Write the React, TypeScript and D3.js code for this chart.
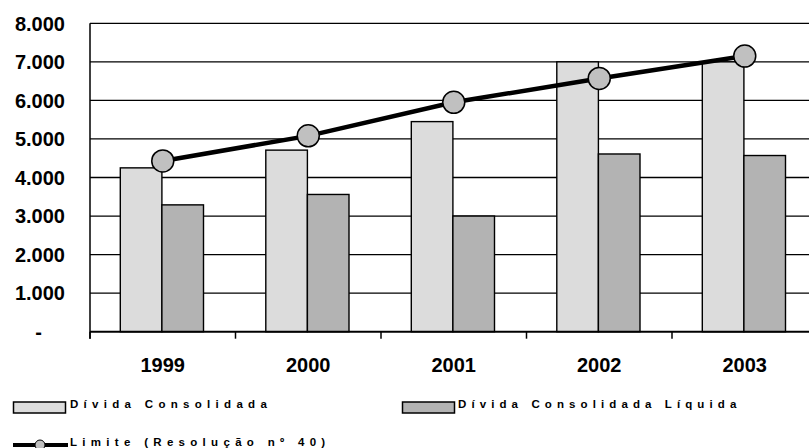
import React from "react";
import * as d3 from "d3";

const categories = ["1999", "2000", "2001", "2002", "2003"];
const dividaConsolidada = [4250, 4710, 5450, 7000, 7000];
const dividaLiquida = [3290, 3560, 3000, 4610, 4570];
const limite = [4430, 5080, 5950, 6570, 7150];
const yTicks = [0, 1000, 2000, 3000, 4000, 5000, 6000, 7000, 8000];
const yTickLabels = ["-", "1.000", "2.000", "3.000", "4.000", "5.000", "6.000", "7.000", "8.000"];
const legendLabels = ["Dívida Consolidada", "Dívida Consolidada Líquida", "Limite (Resolução nº 40)"];

const W = 809;
const H = 448;
const FONT = "'Liberation Sans', Arial, sans-serif";
const LIGHT = "#dcdcdc";
const DARK = "#b3b3b3";
const MARK = "#c0c0c0";

export default function App() {
  const x = d3.scaleBand<string>().domain(categories).range([90, 90 + 145.5 * 5]).padding(0);
  const y = d3.scaleLinear().domain([0, 8000]).range([331.7, 23.3]);
  const bw = x.bandwidth();
  const barW = 41.6;
  const off = 30.3;
  const line = d3
    .line<number>()
    .x((_, i) => (x(categories[i]) as number) + bw / 2)
    .y((v) => y(v));

  return (
    <svg
      width={W}
      height={H}
      style={{ position: "absolute", left: 0, top: 0, background: "#fff" }}
      fontFamily={FONT}
    >
      {/* gridlines */}
      {yTicks.slice(1).map((t) => (
        <line key={t} x1={90} x2={W + 20} y1={y(t)} y2={y(t)} stroke="#000" strokeWidth={1.3} />
      ))}
      {/* y labels */}
      {yTicks.map((t, i) => (
        <text
          key={t}
          x={t === 0 ? 42 : 65}
          y={y(t)}
          dy="0.36em"
          textAnchor="end"
          fontWeight="bold"
          fontSize={20}
        >
          {yTickLabels[i]}
        </text>
      ))}
      {/* bars */}
      {categories.map((c, i) => {
        const bx = x(c) as number;
        return (
          <g key={c}>
            <rect
              x={bx + off}
              y={y(dividaConsolidada[i])}
              width={barW}
              height={y(0) - y(dividaConsolidada[i])}
              fill={LIGHT}
              stroke="#000"
              strokeWidth={1.4}
            />
            <rect
              x={bx + off + barW}
              y={y(dividaLiquida[i])}
              width={barW}
              height={y(0) - y(dividaLiquida[i])}
              fill={DARK}
              stroke="#000"
              strokeWidth={1.4}
            />
          </g>
        );
      })}
      {/* axes */}
      <line x1={90} x2={90} y1={y(8000)} y2={y(0) + 7} stroke="#000" strokeWidth={1.5} />
      <line x1={90} x2={W + 20} y1={y(0)} y2={y(0)} stroke="#000" strokeWidth={2} />
      {categories.map((c) => (
        <line
          key={c}
          x1={x(c) as number}
          x2={x(c) as number}
          y1={y(0)}
          y2={y(0) + 7}
          stroke="#000"
          strokeWidth={1.5}
        />
      ))}
      {categories.map((c) => (
        <text
          key={c}
          x={(x(c) as number) + bw / 2}
          y={372}
          textAnchor="middle"
          fontWeight="bold"
          fontSize={20}
        >
          {c}
        </text>
      ))}
      {/* limit line */}
      <path d={line(limite) || ""} fill="none" stroke="#000" strokeWidth={4.5} />
      {limite.map((v, i) => (
        <circle
          key={i}
          cx={(x(categories[i]) as number) + bw / 2}
          cy={y(v)}
          r={11}
          fill={MARK}
          stroke="#000"
          strokeWidth={1.5}
        />
      ))}
      {/* legend */}
      <rect x={13.5} y={402} width={52} height={11} fill={LIGHT} stroke="#000" strokeWidth={1.5} />
      <text x={70} y={408} fontWeight="bold" fontSize={11.5} letterSpacing={5.3}>
        {legendLabels[0]}
      </text>
      <rect x={402.5} y={402} width={52} height={11} fill={DARK} stroke="#000" strokeWidth={1.5} />
      <text x={458} y={408} fontWeight="bold" fontSize={11.5} letterSpacing={5.1}>
        {legendLabels[1]}
      </text>
      <line x1={13} x2={68} y1={445} y2={445} stroke="#000" strokeWidth={4} />
      <circle cx={40} cy={445} r={5} fill={MARK} stroke="#000" strokeWidth={1} />
      <text x={70} y={446} fontWeight="bold" fontSize={11.5} letterSpacing={5.3}>
        {legendLabels[2]}
      </text>
    </svg>
  );
}
